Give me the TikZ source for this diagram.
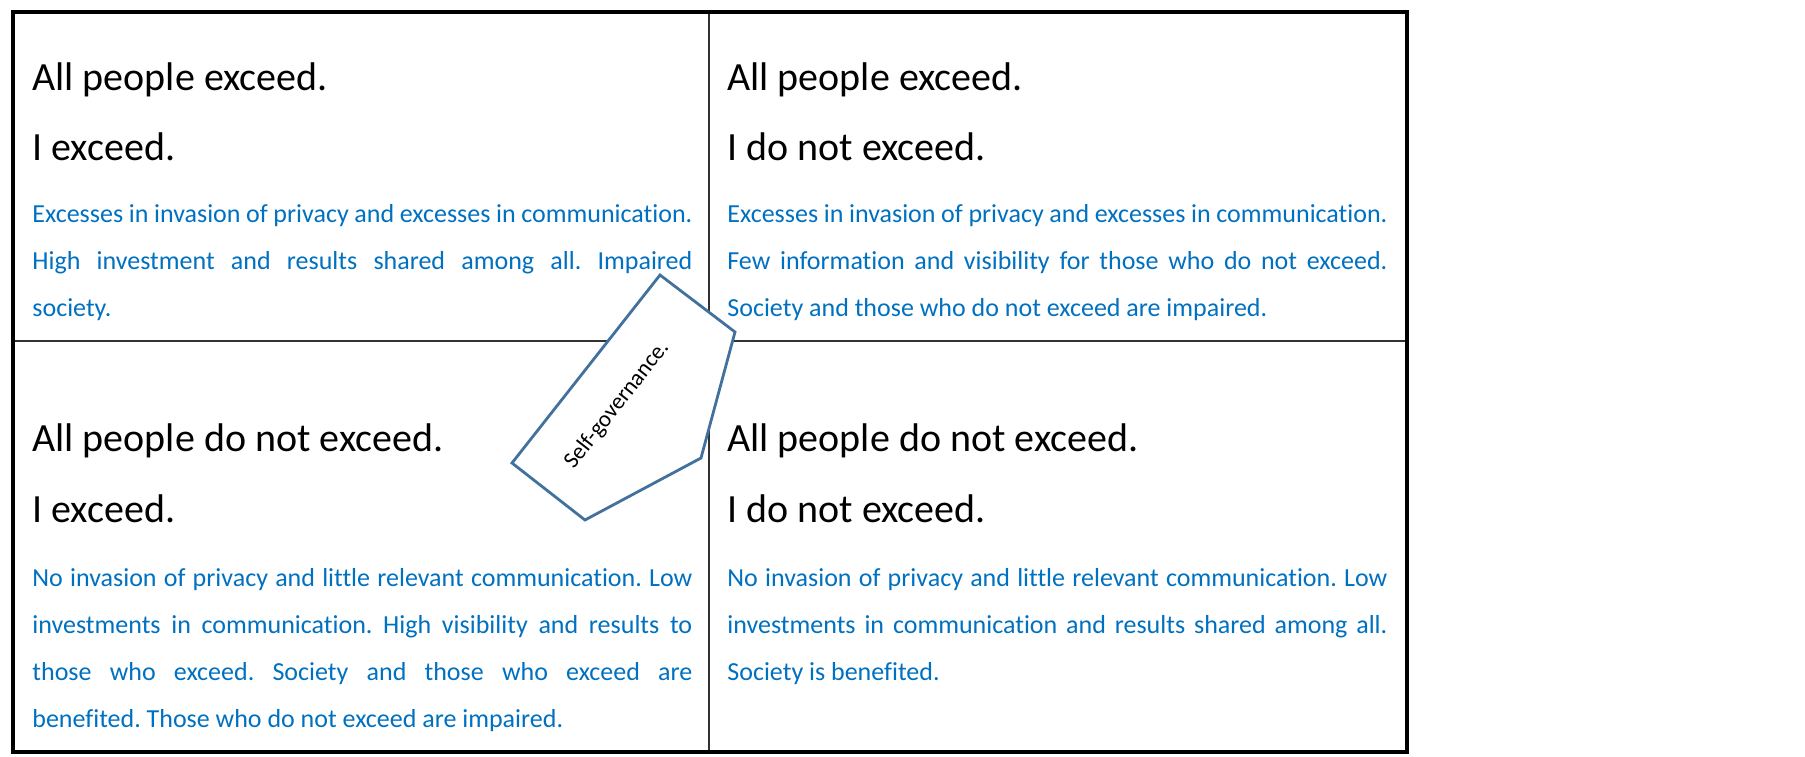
\documentclass[tikz,border=0pt]{standalone}
\usepackage{fontspec}
\setmainfont{Carlito}[Ligatures = NoCommon]
\frenchspacing
\definecolor{tb}{RGB}{0, 112, 192}
\definecolor{ab}{RGB}{65, 113, 156}
\definecolor{lg}{RGB}{50, 50, 50}

\begin{document}
\begin{tikzpicture}[x = 0.5pt, y = -0.5pt,
  head/.style = {anchor = base west, inner sep = 0pt, font = \fontsize{20}{24}\selectfont},
  body/.style = {anchor = base west, inner sep = 0pt, text width = 330pt, align = justify,
                 text = tb, font = \fontsize{13}{23.5}\selectfont}]
\useasboundingbox (0,0) rectangle (1805,756);
\draw[lg, line width = 0.65pt] (709,12) -- (709,752);
\draw[lg, line width = 0.65pt] (13,341) -- (1407,341);
% top left
\node[head] (tla) at (32,90) {All people exceed.};
\node[head] (tlb) at (32,160) {I exceed.};
\node[body] (tlt) at (32,222) {Excesses in invasion of privacy and excesses in communication.\linebreak
High investment and results shared among all. Impaired\linebreak society.};
% top right
\node[head] (tra) at (727,90) {All people exceed.};
\node[head] (trb) at (727,160) {I do not exceed.};
\node[body] (trt) at (727,222) {Excesses in invasion of privacy and excesses in communication.\linebreak
Few information and visibility for those who do not exceed.\linebreak
Society and those who do not exceed are impaired.};
% bottom left
\node[head] (bla) at (32,451) {All people do not exceed.};
\node[head] (blb) at (32,522) {I exceed.};
\node[body] (blt) at (32,586) {No invasion of privacy and little relevant communication. Low\linebreak
investments in communication. High visibility and results to\linebreak
those who exceed. Society and those who exceed are\linebreak
benefited. Those who do not exceed are impaired.};
% bottom right
\node[head] (bra) at (727,451) {All people do not exceed.};
\node[head] (brb) at (727,522) {I do not exceed.};
\node[body] (brt) at (727,586) {No invasion of privacy and little relevant communication. Low\linebreak
investments in communication and results shared among all.\linebreak
Society is benefited.};
% arrow
\draw[ab, fill = white, line width = 1.4pt] (660,275) -- (735,332) -- (701,458) -- (585,520) -- (512,463) -- cycle;
\node[rotate = 52, inner sep = 0pt, font = \fontsize{11.5}{14}\selectfont] (sg) at (617,405) {Self-governance.};
\draw[line width = 1.75pt] (13,12) rectangle (1407,752);
\end{tikzpicture}
\end{document}
